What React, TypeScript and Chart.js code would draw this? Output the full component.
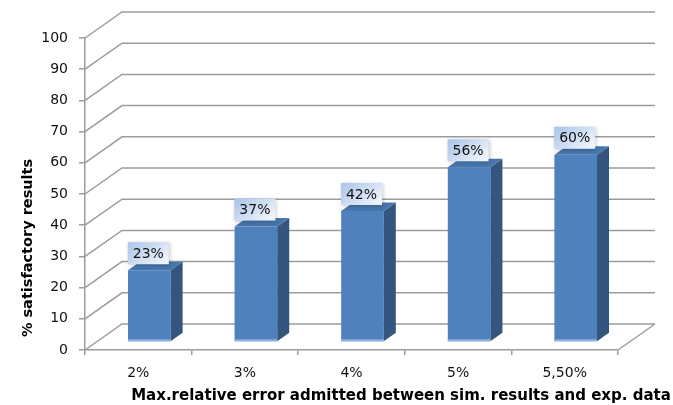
import { useEffect, useRef } from "react";
import { Chart, registerables } from "chart.js";

Chart.register(...registerables);

const categories = ["2%", "3%", "4%", "5%", "5,50%"];
const satisfactory = [23, 37, 42, 56, 60];
const yMin = 0;
const yMax = 100;
const yStep = 10;
const yTitle = "% satisfactory results";
const xTitle = "Max.relative error admitted between sim. results and exp. data";

// perspective of the walls and of the columns
const WALL_DX = 37;
const WALL_DY = -26;
const BAR_SHIFT_X = 11;
const BAR_SHIFT_Y = -8;
const BAR_DEPTH_X = 12;
const BAR_DEPTH_Y = -8.5;

const GRID = "#9c9c9c";
const FRONT = "#4f81bd";
const SIDE = "#34557e";
const TOP = "#4676ae";
const TICK_FONT = { family: "DejaVu Sans", size: 14 };

const depthPlugin = {
  id: "depth3d",
  beforeDatasetsDraw(chart: any) {
    const { ctx, chartArea: a, scales } = chart;
    const ys = scales.y;
    ctx.save();
    ctx.strokeStyle = GRID;
    ctx.lineWidth = 1.5;
    ys.ticks.forEach((t: any) => {
      const py = ys.getPixelForValue(t.value);
      ctx.beginPath();
      ctx.moveTo(a.left, py);
      ctx.lineTo(a.left + WALL_DX, py + WALL_DY);
      ctx.lineTo(a.right + WALL_DX, py + WALL_DY);
      ctx.stroke();
    });
    // right edge of the floor
    ctx.beginPath();
    ctx.moveTo(a.right, a.bottom);
    ctx.lineTo(a.right + WALL_DX, a.bottom + WALL_DY);
    ctx.stroke();
    ctx.restore();
    // columns stand a little behind the front plane
    ctx.save();
    ctx.translate(BAR_SHIFT_X, BAR_SHIFT_Y);
  },
  afterDatasetsDraw(chart: any) {
    const { ctx } = chart;
    const meta = chart.getDatasetMeta(0);
    meta.data.forEach((bar: any) => {
      const { x, y, base, width } = bar.getProps(["x", "y", "base", "width"], true);
      const l = x - width / 2;
      const r = x + width / 2;
      // side face
      ctx.fillStyle = SIDE;
      ctx.beginPath();
      ctx.moveTo(r, y);
      ctx.lineTo(r + BAR_DEPTH_X, y + BAR_DEPTH_Y);
      ctx.lineTo(r + BAR_DEPTH_X, base + BAR_DEPTH_Y);
      ctx.lineTo(r, base);
      ctx.closePath();
      ctx.fill();
      // top face
      ctx.fillStyle = TOP;
      ctx.beginPath();
      ctx.moveTo(l, y);
      ctx.lineTo(l + BAR_DEPTH_X, y + BAR_DEPTH_Y);
      ctx.lineTo(r + BAR_DEPTH_X, y + BAR_DEPTH_Y);
      ctx.lineTo(r, y);
      ctx.closePath();
      ctx.fill();
      // light bottom edge of the front face
      ctx.fillStyle = "#8fb0de";
      ctx.fillRect(l, base - 2, width, 2);
    });
    ctx.restore();

    // value labels
    const values = chart.data.datasets[0].data as number[];
    meta.data.forEach((bar: any, i: number) => {
      const { x, y } = bar.getProps(["x", "y"], true);
      const cx = x + BAR_SHIFT_X - 1;
      const bottom = y + BAR_SHIFT_Y - 6;
      const w = 41;
      const h = 22;
      const bx = cx - w / 2;
      const by = bottom - h;
      ctx.save();
      const g = ctx.createLinearGradient(bx, by, bx + w * 0.6, by + h * 1.4);
      g.addColorStop(0, "#a9c3e8");
      g.addColorStop(1, "#f1f5fc");
      ctx.shadowColor = "rgba(0,0,0,0.22)";
      ctx.shadowBlur = 4;
      ctx.shadowOffsetX = 1;
      ctx.shadowOffsetY = 1;
      ctx.fillStyle = g;
      ctx.fillRect(bx, by, w, h);
      ctx.restore();
      ctx.save();
      ctx.fillStyle = "#111";
      ctx.font = `${TICK_FONT.size}px "${TICK_FONT.family}"`;
      ctx.textAlign = "center";
      ctx.textBaseline = "middle";
      ctx.fillText(`${values[i]}%`, cx, by + h / 2 + 1);
      ctx.restore();
    });
  },
  afterDraw(chart: any) {
    const { ctx } = chart;
    ctx.save();
    ctx.fillStyle = "#000";
    ctx.font = 'bold 15px "DejaVu Sans"';
    ctx.textAlign = "center";
    ctx.textBaseline = "alphabetic";
    ctx.fillText(xTitle, 401, 400);
    ctx.translate(32, 248);
    ctx.rotate(-Math.PI / 2);
    ctx.font = 'bold 14.5px "DejaVu Sans"';
    ctx.fillText(yTitle, 0, 0);
    ctx.restore();
  },
};

export default function App() {
  const canvasRef = useRef<HTMLCanvasElement | null>(null);

  useEffect(() => {
    const canvas = canvasRef.current;
    if (!canvas) return;
    const chart = new Chart(canvas, {
      type: "bar",
      data: {
        labels: categories,
        datasets: [
          {
            data: satisfactory,
            backgroundColor: FRONT,
            borderWidth: 0,
            barPercentage: 0.4,
            categoryPercentage: 1,
          },
        ],
      },
      options: {
        animation: false,
        responsive: true,
        maintainAspectRatio: false,
        layout: { padding: { top: 38, right: 55, bottom: 0, left: 0 } },
        plugins: {
          legend: { display: false },
          tooltip: { enabled: false },
        },
        scales: {
          x: {
            offset: true,
            grid: {
              drawOnChartArea: false,
              offset: true,
              tickLength: 5,
              color: GRID,
              lineWidth: 1.5,
            },
            border: { color: GRID, width: 1.5 },
            ticks: { color: "#111", padding: 10, font: TICK_FONT },
            afterFit(scale: any) {
              scale.height = 55;
            },
          },
          y: {
            min: yMin,
            max: yMax,
            grid: {
              drawOnChartArea: false,
              tickLength: 6,
              color: GRID,
              lineWidth: 1.5,
            },
            border: { color: GRID, width: 1.5 },
            ticks: { stepSize: yStep, color: "#111", padding: 11, font: TICK_FONT },
            afterFit(scale: any) {
              scale.width = 85;
            },
          },
        },
      },
      plugins: [depthPlugin],
    });
    return () => chart.destroy();
  }, []);

  return (
    <div style={{ position: "fixed", left: 0, top: 0, width: 673, height: 405, background: "#fff" }}>
      <canvas ref={canvasRef} />
    </div>
  );
}
